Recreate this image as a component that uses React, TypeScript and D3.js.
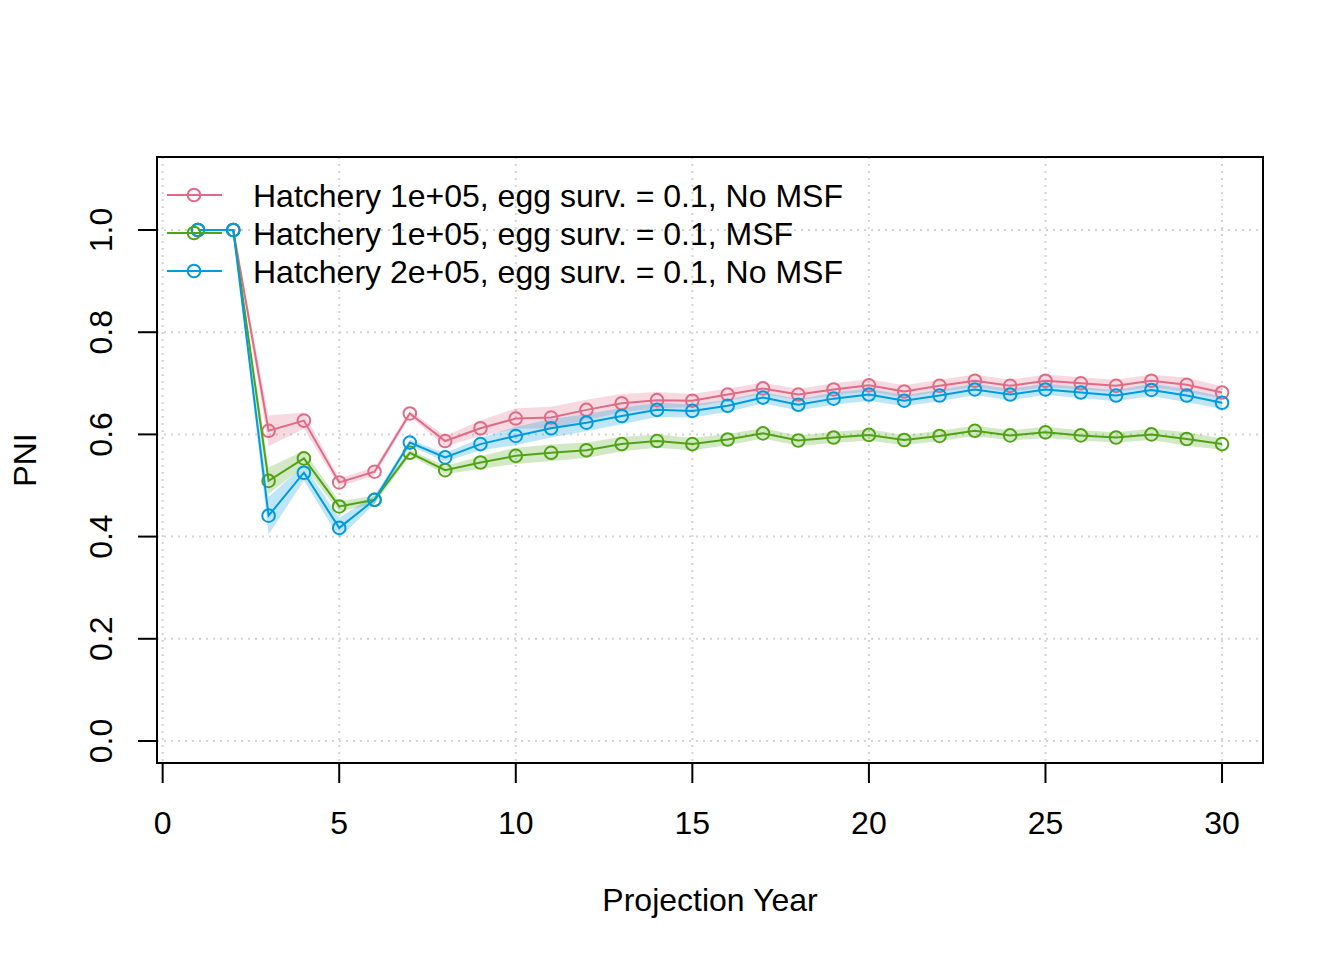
import React, { useEffect, useRef } from "react";
import * as d3 from "d3";

const years = d3.range(1, 31);

const seriesNames = [
  "Hatchery 1e+05, egg surv. = 0.1, No MSF",
  "Hatchery 1e+05, egg surv. = 0.1, MSF",
  "Hatchery 2e+05, egg surv. = 0.1, No MSF",
];
const seriesColors = ["#E16A86", "#50A315", "#009ADE"];

// PNI means per projection year (1..30)
const pinkMean = [1.0, 1.0, 0.607, 0.627, 0.506, 0.527, 0.641, 0.587, 0.612, 0.631, 0.633, 0.648, 0.661, 0.667, 0.666, 0.678, 0.69, 0.678, 0.688, 0.696, 0.684, 0.695, 0.705, 0.695, 0.705, 0.7, 0.695, 0.705, 0.697, 0.682];
const pinkLow = [1.0, 1.0, 0.577, 0.611, 0.498, 0.519, 0.635, 0.577, 0.597, 0.611, 0.612, 0.628, 0.643, 0.651, 0.653, 0.666, 0.679, 0.667, 0.676, 0.684, 0.672, 0.683, 0.693, 0.683, 0.693, 0.688, 0.683, 0.693, 0.683, 0.67];
const pinkHigh = [1.0, 1.0, 0.637, 0.643, 0.514, 0.535, 0.647, 0.597, 0.627, 0.651, 0.654, 0.668, 0.679, 0.683, 0.679, 0.69, 0.701, 0.689, 0.7, 0.708, 0.696, 0.707, 0.717, 0.707, 0.717, 0.712, 0.707, 0.717, 0.711, 0.694];

const greenMean = [1.0, 1.0, 0.509, 0.553, 0.459, 0.472, 0.564, 0.53, 0.545, 0.558, 0.564, 0.569, 0.581, 0.587, 0.581, 0.59, 0.602, 0.588, 0.594, 0.599, 0.589, 0.597, 0.607, 0.598, 0.604, 0.598, 0.594, 0.6, 0.591, 0.581];
const greenLow = [1.0, 1.0, 0.483, 0.538, 0.449, 0.464, 0.558, 0.522, 0.533, 0.542, 0.548, 0.554, 0.567, 0.574, 0.569, 0.579, 0.592, 0.578, 0.583, 0.588, 0.579, 0.587, 0.597, 0.588, 0.593, 0.588, 0.584, 0.589, 0.578, 0.57];
const greenHigh = [1.0, 1.0, 0.535, 0.568, 0.469, 0.48, 0.57, 0.538, 0.557, 0.574, 0.58, 0.584, 0.595, 0.6, 0.593, 0.601, 0.612, 0.598, 0.605, 0.61, 0.599, 0.607, 0.617, 0.608, 0.615, 0.608, 0.604, 0.611, 0.604, 0.592];

const blueMean = [1.0, 1.0, 0.441, 0.525, 0.417, 0.472, 0.584, 0.555, 0.581, 0.597, 0.612, 0.623, 0.636, 0.648, 0.646, 0.656, 0.672, 0.658, 0.67, 0.678, 0.666, 0.676, 0.688, 0.678, 0.688, 0.682, 0.676, 0.687, 0.676, 0.662];
const blueLow = [1.0, 1.0, 0.404, 0.51, 0.397, 0.464, 0.578, 0.547, 0.569, 0.579, 0.594, 0.606, 0.62, 0.634, 0.633, 0.644, 0.661, 0.647, 0.658, 0.666, 0.655, 0.665, 0.677, 0.667, 0.677, 0.671, 0.665, 0.675, 0.663, 0.65];
const blueHigh = [1.0, 1.0, 0.478, 0.54, 0.437, 0.48, 0.59, 0.563, 0.593, 0.615, 0.63, 0.64, 0.652, 0.662, 0.659, 0.668, 0.683, 0.669, 0.682, 0.69, 0.677, 0.687, 0.699, 0.689, 0.699, 0.693, 0.687, 0.699, 0.689, 0.674];

const xTicks = [0, 5, 10, 15, 20, 25, 30];
const yTicks = [0, 0.2, 0.4, 0.6, 0.8, 1.0];

const App: React.FC = () => {
  const ref = useRef<SVGSVGElement | null>(null);

  useEffect(() => {
    const width = 1344;
    const height = 960;
    const box = { left: 157, right: 1263, top: 157, bottom: 763 };
    const font = "'Liberation Sans', Arial, sans-serif";
    const fontSize = 32;

    const svg = d3.select(ref.current);
    svg.selectAll("*").remove();
    svg.attr("width", width).attr("height", height);

    svg.append("rect").attr("width", width).attr("height", height).attr("fill", "white");

    // R style 4% padding around data range
    const x = d3.scaleLinear().domain([-0.16, 31.16]).range([box.left, box.right]);
    const y = d3.scaleLinear().domain([-0.0431, 1.1429]).range([box.bottom, box.top]);

    // grid
    const grid = svg.append("g").attr("stroke", "#D3D3D3").attr("stroke-width", 2).attr("stroke-dasharray", "2,5");
    xTicks.forEach((t) => {
      grid.append("line").attr("x1", x(t)).attr("x2", x(t)).attr("y1", box.top).attr("y2", box.bottom);
    });
    yTicks.forEach((t) => {
      grid.append("line").attr("x1", box.left).attr("x2", box.right).attr("y1", y(t)).attr("y2", y(t));
    });

    const series = [
      { mean: pinkMean, low: pinkLow, high: pinkHigh },
      { mean: greenMean, low: greenLow, high: greenHigh },
      { mean: blueMean, low: blueLow, high: blueHigh },
    ];

    // bands
    series.forEach((s, k) => {
      const band = d3
        .area<number>()
        .x((d, i) => x(years[i]))
        .y0((d, i) => y(s.low[i]))
        .y1((d, i) => y(s.high[i]));
      svg
        .append("path")
        .attr("d", band(s.mean))
        .attr("fill", seriesColors[k])
        .attr("fill-opacity", 0.25)
        .attr("stroke", "none");
    });

    // lines and points
    const line = d3
      .line<number>()
      .x((d, i) => x(years[i]))
      .y((d) => y(d));

    series.forEach((s, k) => {
      svg
        .append("path")
        .attr("d", line(s.mean))
        .attr("fill", "none")
        .attr("stroke", seriesColors[k])
        .attr("stroke-width", 2);
      svg
        .append("g")
        .selectAll("circle")
        .data(s.mean)
        .enter()
        .append("circle")
        .attr("cx", (d, i) => x(years[i]))
        .attr("cy", (d) => y(d))
        .attr("r", 6.3)
        .attr("fill", "none")
        .attr("stroke", seriesColors[k])
        .attr("stroke-width", 2);
    });

    // box
    svg
      .append("rect")
      .attr("x", box.left)
      .attr("y", box.top)
      .attr("width", box.right - box.left)
      .attr("height", box.bottom - box.top)
      .attr("fill", "none")
      .attr("stroke", "black")
      .attr("stroke-width", 2);

    // x axis ticks
    const xa = svg.append("g");
    xTicks.forEach((t) => {
      xa.append("line").attr("x1", x(t)).attr("x2", x(t)).attr("y1", box.bottom).attr("y2", box.bottom + 20).attr("stroke", "black").attr("stroke-width", 2);
      xa.append("text")
        .attr("x", x(t))
        .attr("y", 834)
        .attr("text-anchor", "middle")
        .attr("font-family", font)
        .attr("font-size", fontSize)
        .text(String(t));
    });

    // y axis ticks
    const ya = svg.append("g");
    yTicks.forEach((t) => {
      ya.append("line").attr("x1", box.left - 19).attr("x2", box.left).attr("y1", y(t)).attr("y2", y(t)).attr("stroke", "black").attr("stroke-width", 2);
      ya.append("text")
        .attr("transform", `translate(112,${y(t)}) rotate(-90)`)
        .attr("text-anchor", "middle")
        .attr("font-family", font)
        .attr("font-size", fontSize)
        .text(t.toFixed(1));
    });

    svg
      .append("text")
      .attr("x", (box.left + box.right) / 2)
      .attr("y", 911)
      .attr("text-anchor", "middle")
      .attr("font-family", font)
      .attr("font-size", fontSize)
      .text("Projection Year");

    svg
      .append("text")
      .attr("transform", `translate(36,${(box.top + box.bottom) / 2}) rotate(-90)`)
      .attr("text-anchor", "middle")
      .attr("font-family", font)
      .attr("font-size", fontSize)
      .text("PNI");

    // legend
    const legend = svg.append("g");
    seriesNames.forEach((name, k) => {
      const ly = 195 + k * 38;
      legend.append("line").attr("x1", 167).attr("x2", 222).attr("y1", ly).attr("y2", ly).attr("stroke", seriesColors[k]).attr("stroke-width", 2);
      legend.append("circle").attr("cx", 194).attr("cy", ly).attr("r", 6.3).attr("fill", "none").attr("stroke", seriesColors[k]).attr("stroke-width", 2);
      legend
        .append("text")
        .attr("x", 253)
        .attr("y", ly + 11.5)
        .attr("font-family", font)
        .attr("font-size", fontSize)
        .text(name);
    });
  }, []);

  return <svg ref={ref} style={{ position: "absolute", left: 0, top: 0 }}></svg>;
};

export default App;
